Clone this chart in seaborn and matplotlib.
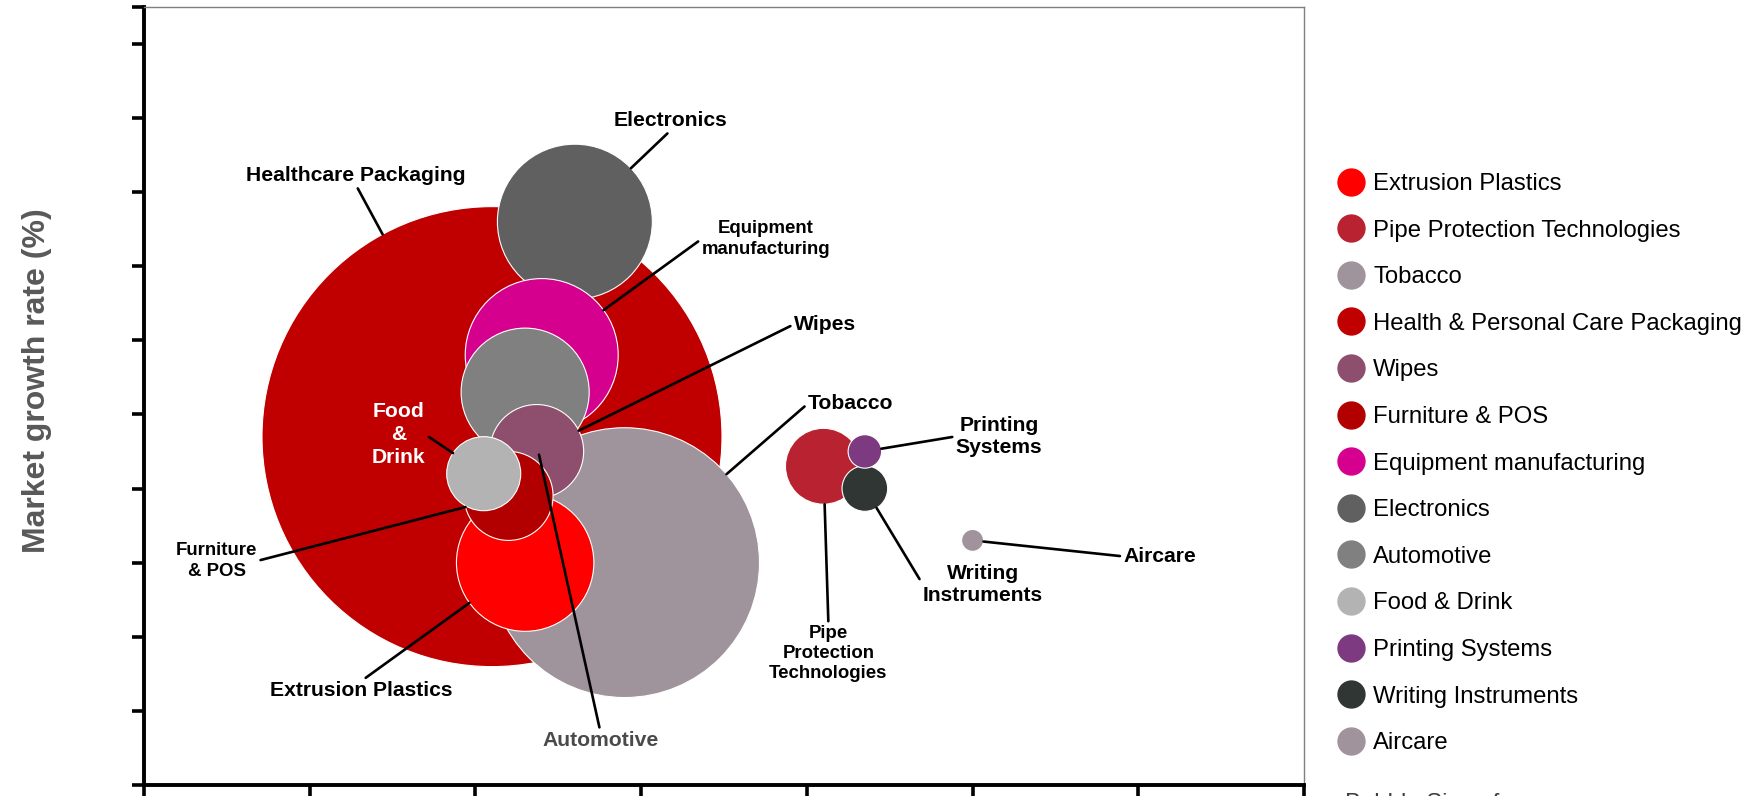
import matplotlib
matplotlib.use("Agg")
import matplotlib.pyplot as plt
from matplotlib.lines import Line2D
import numpy as np
import pandas as pd
import seaborn as sns

# Portfolio segments (legend order)
segments = ["Extrusion Plastics", "Pipe Protection Technologies", "Tobacco",
            "Health & Personal Care Packaging", "Wipes", "Furniture & POS",
            "Equipment manufacturing", "Electronics", "Automotive", "Food & Drink",
            "Printing Systems", "Writing Instruments", "Aircare"]
relative_share = [2.30, 4.10, 2.90, 2.10, 2.37, 2.20, 2.40, 2.60, 2.30, 2.05, 4.35, 4.35, 5.00]
growth_rate = [3.0, 4.3, 3.0, 4.7, 4.5, 3.9, 5.8, 7.6, 5.3, 4.2, 4.5, 4.0, 3.3]
revenue = [47.2, 14.4, 182.0, 529.0, 22.0, 19.8, 58.5, 60.0, 41.0, 13.7, 2.8, 5.2, 1.2]
colors = ["#FF0000", "#B92231", "#9F939C", "#C00000", "#8E4E6D", "#B20000",
          "#D6008F", "#606060", "#808080", "#B3B3B3", "#7D3A80", "#303634", "#A0939C"]

# Call-out texts next to the bubbles
bubble_labels = ["Extrusion Plastics", "Pipe\nProtection\nTechnologies", "Tobacco",
                 "Healthcare Packaging", "Wipes", "Furniture\n& POS",
                 "Equipment\nmanufacturing", "Electronics", "Automotive", "Food\n&\nDrink",
                 "Printing\nSystems", "Writing\nInstruments", "Aircare"]

x_ticks = [0, 1, 2, 3, 4, 5, 6, 7]
y_ticks = [0, 1, 2, 3, 4, 5, 6, 7, 8, 9, 10, 10.5]

DPI = 100
AREA_PER_UNIT = 207.36  # marker area (pt^2) per revenue unit

df = pd.DataFrame({"segment": segments, "share": relative_share,
                   "growth": growth_rate, "revenue": revenue})
palette = dict(zip(segments, colors))

sns.set_style("white")
plt.rcParams["font.family"] = ["Liberation Sans", "DejaVu Sans"]
plt.rcParams["text.color"] = "black"

fig = plt.figure(figsize=(17.58, 7.96), dpi=DPI)
ax = fig.add_axes([144 / 1758, 1 - 785 / 796, 1160 / 1758, (785 - 6.7) / 796])

# largest bubbles first so the small ones stay visible on top
draw_df = df.sort_values("revenue", ascending=False)
vmax = df["revenue"].max()
sns.scatterplot(data=draw_df, x="share", y="growth", hue="segment", palette=palette,
                size="revenue", sizes=(0, AREA_PER_UNIT * vmax), size_norm=(0, vmax),
                edgecolor="white", linewidth=0.8, alpha=1, legend=False, ax=ax)

ax.set_xlim(0, 7)
ax.set_ylim(0, 10.5)
ax.set_xticks(x_ticks)
ax.set_yticks(y_ticks)
ax.set_xticklabels([])
ax.set_yticklabels([])
ax.set_xlabel("")
ax.set_ylabel("Market growth rate (%)", fontsize=23, fontweight="bold", color="#595959")
ax.yaxis.set_label_coords(-0.079, 0.52)
ax.tick_params(axis="both", direction="out", length=9, width=2.6, color="black",
               left=True, bottom=True)
ax.tick_params(axis="x", length=14)
for side in ["left", "bottom"]:
    ax.spines[side].set_linewidth(2.8)
    ax.spines[side].set_color("black")
for side in ["top", "right"]:
    ax.spines[side].set_linewidth(1.0)
    ax.spines[side].set_color("#7F7F7F")

# call-out layout: text offset (pixels) from bubble centre, leader anchor on text, size, colour
label_layout = {
    "Extrusion Plastics": ((-164, -128), (0.5, 1.0), 15.2, "black"),
    "Pipe Protection Technologies": ((5, -187), (0.5, 1.0), 13.4, "black"),
    "Tobacco": ((226, 159), (0.0, 0.5), 15.2, "black"),
    "Health & Personal Care Packaging": ((-136, 261), (0.5, 0.0), 15.2, "black"),
    "Wipes": ((288, 127), (0.0, 0.5), 15.2, "black"),
    "Furniture & POS": ((-292, -65), (1.0, 0.5), 13.4, "black"),
    "Equipment manufacturing": ((224, 116), (0.0, 0.5), 13.4, "black"),
    "Electronics": ((96, 101), (0.5, 0.0), 15.2, "black"),
    "Automotive": ((75, -348), (0.5, 1.0), 15.2, "#4A4A4A"),
    "Food & Drink": ((-85, 39), (1.0, 0.5), 15.2, "white"),
    "Printing Systems": ((134, 15), (0.0, 0.5), 15.2, "black"),
    "Writing Instruments": ((118, -96), (0.0, 0.5), 15.2, "black"),
    "Aircare": ((187, -16), (0.0, 0.5), 15.2, "black"),
}

for seg, lab, xv, yv, rev in zip(segments, bubble_labels, relative_share, growth_rate, revenue):
    (dx, dy), relpos, fs, col = label_layout[seg]
    radius_pt = np.sqrt(AREA_PER_UNIT * rev) / 2
    ax.annotate(lab, xy=(xv, yv), xycoords="data", xytext=(dx, dy),
                textcoords="offset pixels", ha="center", va="center",
                multialignment="center", fontsize=fs, fontweight="bold", color=col,
                linespacing=1.25, zorder=5,
                arrowprops=dict(arrowstyle="-", color="black", lw=1.9,
                                shrinkA=0, shrinkB=radius_pt, relpos=relpos))

handles = [Line2D([0], [0], marker="o", linestyle="none", markersize=19.4,
                  markerfacecolor=c, markeredgecolor=c) for c in colors]
fig.legend(handles, segments, loc="upper left", bbox_to_anchor=(1337.5 / 1758, 1 - 173 / 796),
           bbox_transform=fig.transFigure, frameon=False, borderaxespad=0, borderpad=0,
           handlelength=1.13, handletextpad=0.36, labelspacing=1.03, fontsize=17.2,
           labelcolor="black")

fig.text(1345 / 1758, 1 - 793 / 796, "Bubble Size of\nrevenue", ha="left", va="top",
         fontsize=17.2, color="#3F3F3F")

fig.savefig("out.png", dpi=DPI)
